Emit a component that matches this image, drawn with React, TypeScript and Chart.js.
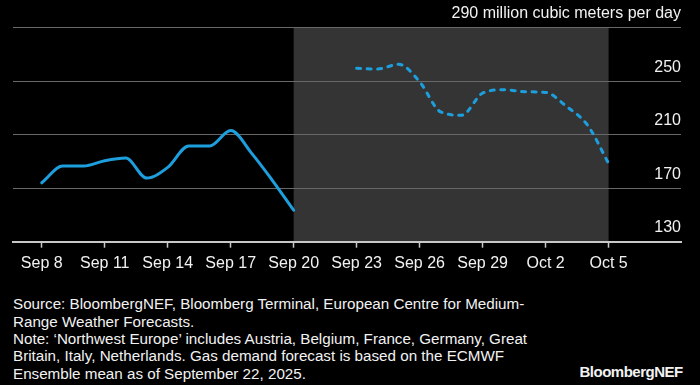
import React, { useEffect, useRef } from "react";
import { Chart, registerables } from "chart.js";

Chart.register(...registerables);

const allDates = [
  "Sep 8", "Sep 9", "Sep 10", "Sep 11", "Sep 12", "Sep 13", "Sep 14",
  "Sep 15", "Sep 16", "Sep 17", "Sep 18", "Sep 19", "Sep 20", "Sep 21",
  "Sep 22", "Sep 23", "Sep 24", "Sep 25", "Sep 26", "Sep 27", "Sep 28",
  "Sep 29", "Sep 30", "Oct 1", "Oct 2", "Oct 3", "Oct 4", "Oct 5",
];

const actualDates = [
  "Sep 8", "Sep 9", "Sep 10", "Sep 11", "Sep 12", "Sep 13", "Sep 14",
  "Sep 15", "Sep 16", "Sep 17", "Sep 18", "Sep 19", "Sep 20",
];
const actualValues = [174, 186.5, 186.5, 190.5, 192.5, 177.5, 185.5, 201.5, 201.5, 213, 196, 175.5, 153.5];

const forecastDates = [
  "Sep 23", "Sep 24", "Sep 25", "Sep 26", "Sep 27", "Sep 28", "Sep 29",
  "Sep 30", "Oct 1", "Oct 2", "Oct 3", "Oct 4", "Oct 5",
];
const forecastValues = [259.5, 259, 262.5, 249.5, 227, 224.5, 241, 243.5, 242, 241.5, 231, 217, 188.5];

const shadeFrom = "Sep 20";
const shadeTo = "Oct 5";

const xTickLabels = ["Sep 8", "Sep 11", "Sep 14", "Sep 17", "Sep 20", "Sep 23", "Sep 26", "Sep 29", "Oct 2", "Oct 5"];
const yTickValues = [130, 170, 210, 250, 290];
const yTickLabels = ["130", "170", "210", "250", "290 million cubic meters per day"];

const footnoteLines = [
  "Source: BloombergNEF, Bloomberg Terminal, European Centre for Medium-",
  "Range Weather Forecasts.",
  "Note: \u2018Northwest Europe\u2019 includes Austria, Belgium, France, Germany, Great",
  "Britain, Italy, Netherlands. Gas demand forecast is based on the ECMWF",
  "Ensemble mean as of September 22, 2025.",
];
const brand = "BloombergNEF";

const FONT = "'Liberation Sans', Arial, Helvetica, sans-serif";
const LINE_COLOR = "#1d9fdd";

export default function App() {
  const ref = useRef<HTMLCanvasElement | null>(null);

  useEffect(() => {
    if (!ref.current) return;
    const idx = (d: string) => allDates.indexOf(d);
    const xTickValues = xTickLabels.map(idx);

    const shadePlugin = {
      id: "shade",
      beforeDraw(chart: any) {
        const { ctx, chartArea, scales } = chart;
        const x0 = scales.x.getPixelForValue(idx(shadeFrom));
        const x1 = scales.x.getPixelForValue(idx(shadeTo));
        ctx.save();
        ctx.fillStyle = "#343434";
        ctx.fillRect(x0, chartArea.top, x1 - x0, chartArea.bottom - chartArea.top);
        ctx.restore();
      },
    };

    const yLabelPlugin = {
      id: "ylabels",
      afterDraw(chart: any) {
        const { ctx, chartArea, scales } = chart;
        ctx.save();
        ctx.fillStyle = "#f2f2f2";
        ctx.font = `16px ${FONT}`;
        ctx.textAlign = "right";
        ctx.textBaseline = "alphabetic";
        yTickValues.forEach((v, i) => {
          const y = scales.y.getPixelForValue(v);
          ctx.fillText(yTickLabels[i], chartArea.right, y - 9.5);
        });
        ctx.restore();
      },
    };

    const chart = new Chart(ref.current, {
      type: "line",
      data: {
        datasets: [
          {
            data: actualDates.map((d, i) => ({ x: idx(d), y: actualValues[i] })),
            borderColor: LINE_COLOR,
            borderWidth: 3,
            pointRadius: 0,
            cubicInterpolationMode: "monotone",
            borderCapStyle: "round",
            borderJoinStyle: "round",
            fill: false,
          },
          {
            data: forecastDates.map((d, i) => ({ x: idx(d), y: forecastValues[i] })),
            borderColor: LINE_COLOR,
            borderWidth: 3,
            pointRadius: 0,
            cubicInterpolationMode: "monotone",
            borderDash: [4, 6.5],
            borderCapStyle: "round",
            borderJoinStyle: "round",
            fill: false,
          },
        ],
      },
      options: {
        animation: false,
        responsive: false,
        maintainAspectRatio: false,
        layout: { padding: { left: 13, right: 19, top: 27.5, bottom: 0 } },
        plugins: { legend: { display: false }, tooltip: { enabled: false } },
        scales: {
          x: {
            type: "linear",
            min: -1.37,
            max: 30.45,
            afterBuildTicks: (axis: any) => {
              axis.ticks = xTickValues.map((v) => ({ value: v }));
            },
            afterFit: (scale: any) => {
              scale.height = 48.3;
            },
            ticks: {
              color: "#f2f2f2",
              font: { family: FONT, size: 16 },
              padding: 6,
              maxRotation: 0,
              autoSkip: false,
              callback: (v: any) => {
                const i = xTickValues.indexOf(Number(v));
                return i >= 0 ? xTickLabels[i] : "";
              },
            },
            grid: {
              display: true,
              drawOnChartArea: false,
              drawTicks: true,
              tickLength: 6,
              tickColor: "#c8c8c8",
              tickWidth: 1.5,
            },
            border: { display: true, color: "#c8c8c8", width: 2 },
          },
          y: {
            position: "right",
            min: 130,
            max: 290,
            afterBuildTicks: (axis: any) => {
              axis.ticks = yTickValues.map((v) => ({ value: v }));
            },
            afterFit: (scale: any) => {
              scale.width = 0;
            },
            ticks: { display: false },
            grid: {
              drawTicks: false,
              color: (c: any) => (c.tick && c.tick.value === 130 ? "rgba(0,0,0,0)" : "#686868"),
              lineWidth: 1,
            },
            border: { display: false },
          },
        },
      },
      plugins: [shadePlugin, yLabelPlugin],
    } as any);
    return () => chart.destroy();
  }, []);

  return (
    <div
      style={{
        position: "fixed",
        left: 0,
        top: 0,
        width: 700,
        height: 385,
        background: "#000",
        overflow: "hidden",
        fontFamily: FONT,
      }}
    >
      <canvas ref={ref} width={700} height={290} style={{ position: "absolute", left: 0, top: 0, width: 700, height: 290 }} />
      <div
        style={{
          position: "absolute",
          left: 13,
          top: 295.4,
          fontSize: 15.2,
          lineHeight: "17.3px",
          color: "#f2f2f2",
          whiteSpace: "nowrap",
        }}
      >
        {footnoteLines.map((l, i) => (
          <div key={i}>{l}</div>
        ))}
      </div>
      <div
        style={{
          position: "absolute",
          right: 17.3,
          top: 363,
          fontSize: 15,
          fontWeight: 700,
          letterSpacing: "-0.5px",
          color: "#f2f2f2",
          lineHeight: "17px",
        }}
      >
        {brand}
      </div>
    </div>
  );
}
